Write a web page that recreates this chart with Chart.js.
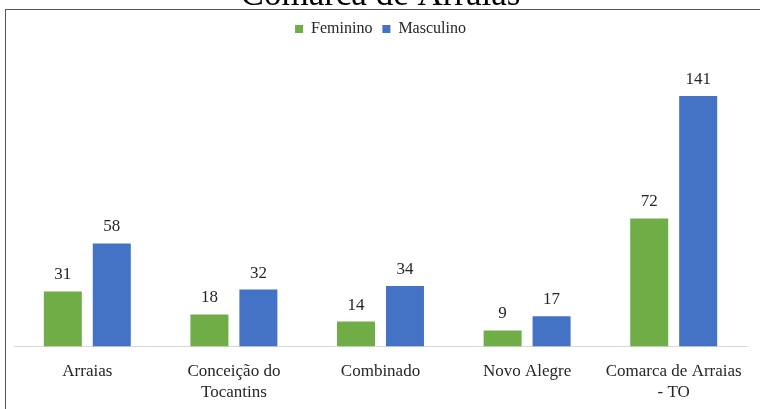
<!DOCTYPE html>
<html>
<head>
<meta charset="utf-8">
<script src="https://cdn.jsdelivr.net/npm/chart.js@4"></script>
<style>
  html, body { margin: 0; padding: 0; background: #fff; overflow: hidden; }
  body { width: 760px; height: 409px; position: relative; }
  #frame { position: absolute; left: 5px; top: 9px; width: 800px; height: 500px; border: 1.5px solid #555; }
  #wrap { position: absolute; left: 0; top: -30px; width: 760px; height: 439px; }
</style>
</head>
<body>
<div id="frame"></div>
<div id="wrap"><canvas id="chart"></canvas></div>
<script>
const categories = ["Arraias", ["Conceição do", "Tocantins"], "Combinado", "Novo Alegre", ["Comarca de Arraias", "- TO"]];
const feminino = [31, 18, 14, 9, 72];
const masculino = [58, 32, 34, 17, 141];

const serif = "'Liberation Serif', 'Times New Roman', serif";

// draws the value above each bar
const barValues = {
    id: "barValues",
    afterDatasetsDraw(chart) {
        const ctx = chart.ctx;
        ctx.save();
        ctx.font = "17px " + serif;
        ctx.fillStyle = "#262626";
        ctx.textAlign = "center";
        ctx.textBaseline = "bottom";
        chart.data.datasets.forEach((ds, i) => {
            chart.getDatasetMeta(i).data.forEach((bar, j) => {
                ctx.fillText(ds.data[j], bar.x, bar.y - 8);
            });
        });
        ctx.restore();
    }
};

new Chart(document.getElementById("chart"), {
    type: "bar",
    data: {
        labels: categories,
        datasets: [
            { label: "Feminino", data: feminino, backgroundColor: "#70AD47" },
            { label: "Masculino", data: masculino, backgroundColor: "#4472C4" }
        ]
    },
    options: {
        responsive: true,
        maintainAspectRatio: false,
        animation: false,
        datasets: { bar: { categoryPercentage: 0.668, barPercentage: 0.776 } },
        layout: { padding: { left: 14, right: 13, top: 0, bottom: 0 } },
        scales: {
            x: {
                grid: { display: false },
                border: { display: true, color: "#d9d9d9", width: 1 },
                ticks: {
                    color: "#262626",
                    font: { family: serif, size: 17, lineHeight: 1.25 },
                    padding: 6,
                    maxRotation: 0,
                    autoSkip: false
                }
            },
            y: { display: false, min: 0, max: 168.5 }
        },
        plugins: {
            title: {
                display: true,
                text: "Comarca de Arraias",
                color: "#000",
                font: { family: serif, size: 35, weight: "normal", lineHeight: 1 },
                padding: { top: 8, bottom: -2 }
            },
            legend: {
                labels: {
                    color: "#262626",
                    font: { family: serif, size: 16 },
                    boxWidth: 8,
                    boxHeight: 8,
                    padding: 10
                }
            },
            tooltip: { enabled: false }
        }
    },
    plugins: [barValues]
});
</script>
</body>
</html>
